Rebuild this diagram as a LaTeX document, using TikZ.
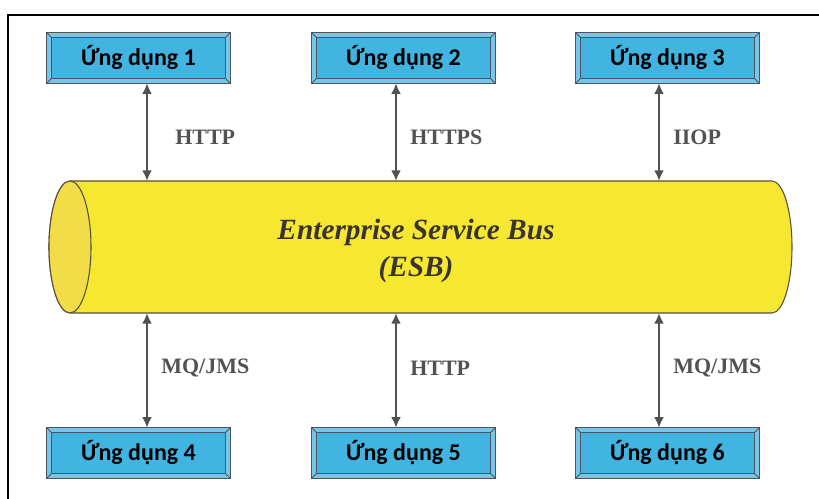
\documentclass[tikz,border=0pt]{standalone}
\usepackage{fontspec}
\setmainfont{Liberation Serif}
\newfontfamily\boxfont{Carlito}
\usetikzlibrary{arrows.meta,backgrounds,calc}

\definecolor{boxblue}{RGB}{66,180,225}
\definecolor{bevelblue}{RGB}{118,198,233}
\definecolor{boxline}{RGB}{75,85,95}
\definecolor{busyellow}{RGB}{246,231,48}
\definecolor{capyellow}{RGB}{242,220,72}
\definecolor{busline}{RGB}{88,78,58}
\definecolor{linkgray}{RGB}{82,82,82}
\definecolor{esbtext}{RGB}{58,52,48}

\tikzset{
  appbox/.style={minimum width=137.25pt, minimum height=37.5pt, inner sep=0pt,
    font=\boxfont\bfseries\fontsize{18}{21}\selectfont},
  bevel/.style={draw=boxline, line width=0.7pt},
  link/.style={{Latex[length=8pt,width=7.5pt]}-{Latex[length=8pt,width=7.5pt]}, draw=linkgray, line width=1.8pt},
  proto/.style={anchor=west, inner sep=0pt, text=linkgray, font=\bfseries\fontsize{16.5}{19}\selectfont}
}

\begin{document}
\begin{tikzpicture}[x=0.75pt,y=0.75pt,yscale=-1,xscale=1]
\useasboundingbox (0,0) rectangle (819,499);

%Shape: Frame
\draw[line width=1.5pt] (8,499) -- (8,15) -- (819,15);

%Shape: Cylinder body
\draw[busline, fill=busyellow, line width=0.8pt] (70,181) -- (772,181)
  arc[start angle=-90, end angle=90, x radius=20, y radius=66] -- (70,313)
  arc[start angle=90, end angle=270, x radius=21, y radius=66] -- cycle;
%Shape: Cylinder front
\draw[busline, fill=capyellow, line width=0.8pt] (70,247) ellipse [x radius=21, y radius=66];

% Text Node
\node[align=center, text=esbtext, font=\bfseries\itshape\fontsize{22}{28}\selectfont] (esb) at (416,251) {Enterprise Service Bus\\(ESB)};

% Application boxes
\node[appbox] (app1) at (138.5,58) {Ứng dụng 1};
\node[appbox] (app2) at (403.5,58) {Ứng dụng 2};
\node[appbox] (app3) at (667.5,58) {Ứng dụng 3};
\node[appbox] (app4) at (138.5,453) {Ứng dụng 4};
\node[appbox] (app5) at (403.5,453) {Ứng dụng 5};
\node[appbox] (app6) at (667.5,453) {Ứng dụng 6};

\begin{pgfonlayer}{background}
\foreach \n in {app1,app2,app3,app4,app5,app6}{
  \draw[bevel, fill=bevelblue] (\n.north west) rectangle (\n.south east);
  \draw[bevel, fill=boxblue] ($(\n.north west)+(5,5)$) rectangle ($(\n.south east)+(-5,-5)$);
  \draw[bevel] (\n.north west) -- ++(5,5) (\n.north east) -- ++(-5,5)
    (\n.south west) -- ++(5,-5) (\n.south east) -- ++(-5,-5);
}
\end{pgfonlayer}

% Bus taps
\coordinate (t1) at (147,181);
\coordinate (t2) at (396,181);
\coordinate (t3) at (659,181);
\coordinate (b1) at (147,313);
\coordinate (b2) at (396,313);
\coordinate (b3) at (659,313);

\draw[link] (app1.south -| t1) -- (t1);
\draw[link] (app2.south -| t2) -- (t2);
\draw[link] (app3.south -| t3) -- (t3);
\draw[link] (b1) -- (app4.north -| b1);
\draw[link] (b2) -- (app5.north -| b2);
\draw[link] (b3) -- (app6.north -| b3);

% Text Node
\node[proto] (p1) at (175,137) {HTTP};
\node[proto] (p2) at (410,137) {HTTPS};
\node[proto] (p3) at (673,137) {IIOP};
\node[proto] (p4) at (161,368) {MQ/JMS};
\node[proto] (p5) at (410,368) {HTTP};
\node[proto] (p6) at (673,368) {MQ/JMS};

\end{tikzpicture}
\end{document}
